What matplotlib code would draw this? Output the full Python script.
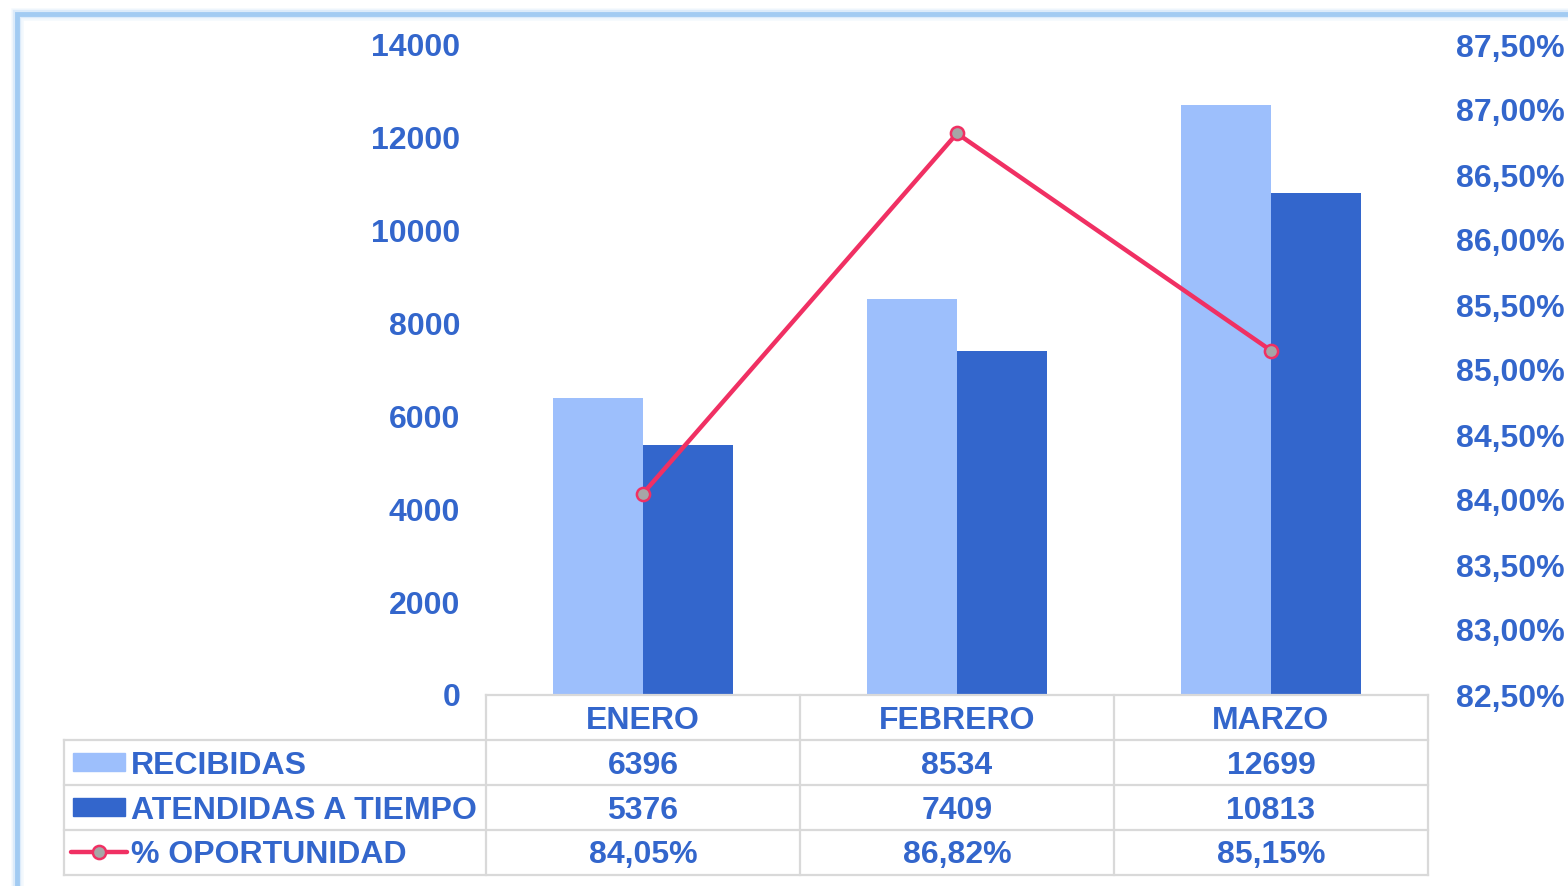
import matplotlib
matplotlib.use("Agg")
import matplotlib.pyplot as plt
from matplotlib.lines import Line2D
from matplotlib.patches import Rectangle
from matplotlib.ticker import FuncFormatter, MultipleLocator

categories = ["ENERO", "FEBRERO", "MARZO"]
recibidas = [6396, 8534, 12699]
atendidas = [5376, 7409, 10813]
oportunidad = [84.05, 86.82, 85.15]
series_names = ["RECIBIDAS", "ATENDIDAS A TIEMPO", "% OPORTUNIDAD"]

W, H = 1568, 886
BLUE = "#3366CC"
LIGHT = "#9DBFFC"
DARK = "#3366CC"
PINK = "#F03063"
GRID = "#D9D9D9"
plt.rcParams['font.family'] = ['Liberation Sans', 'DejaVu Sans']
FS = 23

fig = plt.figure(figsize=(W / 100, H / 100), dpi=100)

def fx(px):
    return px / W

def fy(py):
    return 1 - py / H

# plot area
x0, x1, ytop, ybot = 486, 1428, 45, 695
ax = fig.add_axes([fx(x0), fy(ybot), fx(x1) - fx(x0), fy(ytop) - fy(ybot)])
ax2 = ax.twinx()

bw = 90 / 314
xs = list(range(len(categories)))
ax.bar([x - bw / 2 for x in xs], recibidas, width=bw, color=LIGHT, zorder=2)
ax.bar([x + bw / 2 for x in xs], atendidas, width=bw, color=DARK, zorder=2)
ax.set_xlim(-0.5, len(categories) - 0.5)
ax.set_ylim(0, 14000)
ax.yaxis.set_major_locator(MultipleLocator(2000))
ax.set_xticks([])
for s in ax.spines.values():
    s.set_visible(False)
ax.tick_params(axis='y', length=0, pad=18.5, labelsize=FS, labelcolor=BLUE)
for lab in ax.get_yticklabels():
    lab.set_fontweight('bold')

ax2.plot(xs, oportunidad, color=PINK, lw=3.2, marker='o', markersize=9.5,
         markerfacecolor="#A6A6A6", markeredgecolor=PINK, markeredgewidth=1.8, zorder=5)
ax2.set_ylim(82.5, 87.5)
ax2.yaxis.set_major_locator(MultipleLocator(0.5))
ax2.yaxis.set_major_formatter(FuncFormatter(lambda v, p: f"{v:.2f}%".replace('.', ',')))
for s in ax2.spines.values():
    s.set_visible(False)
ax2.tick_params(axis='y', length=0, pad=20.5, labelsize=FS, labelcolor=BLUE)
for lab in ax2.get_yticklabels():
    lab.set_fontweight('bold')

# table grid
col_edges = [486, 800, 1114, 1428]
row_edges = [695, 740, 785, 830, 875]
lw_grid = 1.6
for cx in col_edges:
    fig.add_artist(Line2D([fx(cx), fx(cx)], [fy(695), fy(875)], color=GRID, lw=lw_grid))
fig.add_artist(Line2D([fx(64), fx(64)], [fy(740), fy(875)], color=GRID, lw=lw_grid))
fig.add_artist(Line2D([fx(486), fx(1428)], [fy(695), fy(695)], color=GRID, lw=lw_grid))
for ry in row_edges[1:]:
    fig.add_artist(Line2D([fx(64), fx(1428)], [fy(ry), fy(ry)], color=GRID, lw=lw_grid))

txt = dict(color=BLUE, fontsize=FS, fontweight='bold')
# header
for i, c in enumerate(categories):
    cxm = (col_edges[i] + col_edges[i + 1]) / 2
    fig.text(fx(cxm), fy(721), c, ha='center', va='center', **txt)
rows = [recibidas, atendidas, [f"{v:.2f}%".replace('.', ',') for v in oportunidad]]
row_centers = [766, 811, 855]
for r, vals in enumerate(rows):
    for i, v in enumerate(vals):
        cxm = (col_edges[i] + col_edges[i + 1]) / 2
        fig.text(fx(cxm), fy(row_centers[r]), str(v), ha='center', va='center', **txt)
    fig.text(fx(131), fy(row_centers[r]), series_names[r], ha='left', va='center', **txt)

# legend keys
fig.add_artist(Rectangle((fx(73), fy(771)), fx(125) - fx(73), fy(753) - fy(771), color=LIGHT))
fig.add_artist(Rectangle((fx(73), fy(816)), fx(125) - fx(73), fy(798) - fy(816), color=DARK))
fig.add_artist(Line2D([fx(71), fx(127)], [fy(852), fy(852)], color=PINK, lw=3.2,
                      solid_capstyle='round'))
fig.add_artist(Line2D([fx(99)], [fy(852)], marker='o', markersize=9.5, markerfacecolor="#A6A6A6",
                      markeredgecolor=PINK, markeredgewidth=1.8, color=PINK))

# frame with glow
for w, a in [(9, 0.12), (6, 0.25), (3.5, 0.9)]:
    fig.add_artist(Line2D([fx(17), fx(17), fx(W + 5)], [fy(H + 5), fy(14), fy(14)],
                          color="#9CC8F2", lw=w, alpha=a, solid_joinstyle='miter'))

fig.savefig("out.png", dpi=100)
